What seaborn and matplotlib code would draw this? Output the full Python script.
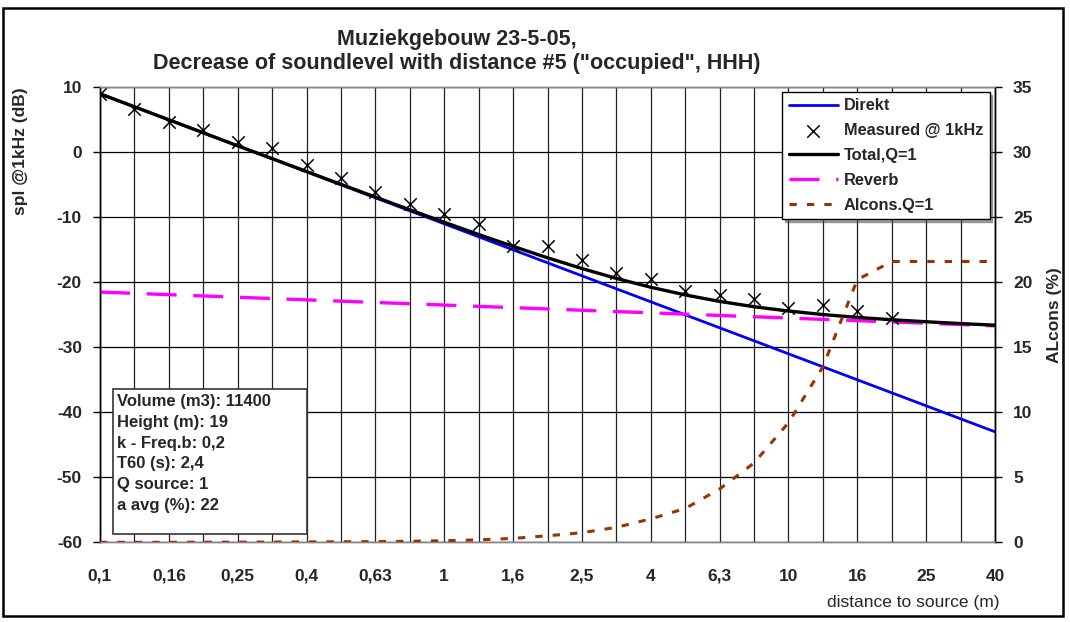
import numpy as np
import pandas as pd
import matplotlib
matplotlib.use("Agg")
import matplotlib.pyplot as plt
import seaborn as sns
from matplotlib.patches import Rectangle

# distance categories (third-octave steps), equally spaced like the original category axis
distances = ['0,1', '0,125', '0,16', '0,2', '0,25', '0,315', '0,4', '0,5', '0,63', '0,8',
             '1', '1,25', '1,6', '2', '2,5', '3,15', '4', '5', '6,3', '8',
             '10', '12,5', '16', '20', '25', '31,5', '40']
direkt = [9.0, 7.0, 5.0, 3.0, 1.0, -1.0, -3.0, -5.0, -7.0, -9.0,
          -11.0, -13.0, -15.0, -17.0, -19.0, -21.0, -23.0, -25.0, -27.0, -29.0,
          -31.0, -33.0, -35.0, -37.0, -39.0, -41.0, -43.0]
reverb = [-21.5, -21.7, -21.9, -22.1, -22.3, -22.5, -22.7, -22.9, -23.1, -23.3,
          -23.5, -23.7, -23.9, -24.1, -24.3, -24.5, -24.7, -24.9, -25.1, -25.3,
          -25.5, -25.7, -25.9, -26.1, -26.3, -26.5, -26.7]
total = [9.0, 7.0, 5.0, 3.0, 1.0, -0.97, -2.95, -4.93, -6.89, -8.84,
         -10.76, -12.65, -14.47, -16.23, -17.88, -19.4, -20.76, -21.94, -22.94, -23.76,
         -24.42, -24.96, -25.4, -25.76, -26.07, -26.35, -26.6]
measured = [8.9, 6.7, 4.6, 3.5, 1.6, 0.6, -1.9, -4.0, -6.1, -8.0,
            -9.5, -11.0, -14.4, -14.4, -16.6, -18.5, -19.5, -21.4, -22.0, -22.5,
            -24.0, -23.5, -24.4, -25.5]
alcons = [0.0, 0.0, 0.0, 0.01, 0.01, 0.02, 0.03, 0.04, 0.05, 0.08,
          0.12, 0.19, 0.3, 0.5, 0.74, 1.15, 1.8, 2.6, 4.1, 6.1,
          9.2, 13.5, 20.2, 21.6, 21.6, 21.6, 21.6]
info_lines = ['Volume (m3): 11400', 'Height (m): 19', 'k - Freq.b: 0,2',
              'T60 (s): 2,4', 'Q source: 1', 'a avg (%): 22']

idx = np.arange(len(distances))
df = pd.DataFrame({'pos': idx, 'direkt': direkt, 'reverb': reverb,
                   'total': total, 'alcons': alcons})
dm = pd.DataFrame({'pos': idx[:len(measured)], 'measured': measured})

sns.set_style('white')
plt.rcParams['font.family'] = ['Liberation Sans', 'DejaVu Sans']
plt.rcParams['axes.unicode_minus'] = False

fig = plt.figure(figsize=(10.7, 6.22), dpi=100)
ax = fig.add_axes([100 / 1070, 1 - 542.3 / 622, 895 / 1070, 455 / 622])
ax2 = ax.twinx()

sns.lineplot(data=df, x='pos', y='direkt', ax=ax, color='#0000FF', lw=2.0, label='Direkt', zorder=3)
sns.scatterplot(data=dm, x='pos', y='measured', ax=ax, marker='x', color='black', s=80,
                linewidth=1.1, label='Measured @ 1kHz', zorder=5)
sns.lineplot(data=df, x='pos', y='total', ax=ax, color='black', lw=2.4, label='Total,Q=1', zorder=4)
sns.lineplot(data=df, x='pos', y='reverb', ax=ax, color='#FF00FF', lw=2.4, label='Reverb', zorder=3)
ax.lines[-1].set_dashes([9, 5])
sns.lineplot(data=df, x='pos', y='alcons', ax=ax2, color='#993300', lw=2.2, label='Alcons.Q=1', zorder=3)
ax2.lines[-1].set_dashes([2.4, 3.3])

ax.set_xlim(0, 26)
ax.set_ylim(-60, 10)
ax2.set_ylim(0, 35)
ax.set_yticks(np.arange(-60, 11, 10))
ax2.set_yticks(np.arange(0, 36, 5))
ax.set_xticks(idx[::2])
ax.set_xticklabels(distances[::2])
ax.set_xticks(idx[1::2], minor=True)

ax.grid(True, which='both', axis='x', color='#222222', lw=0.9)
ax.grid(True, which='major', axis='y', color='black', lw=0.9)
ax.set_axisbelow(True)

for a in (ax, ax2):
    for s in a.spines.values():
        s.set_color('black')
        s.set_linewidth(1.0)
    a.spines['top'].set_color('#888888')
    a.spines['bottom'].set_color('#888888')

ax.tick_params(axis='y', which='major', direction='out', length=5, width=1, pad=8,
               labelsize=12.5, color='black')
ax.tick_params(axis='x', which='both', length=0, pad=19, labelsize=12.5)
ax2.tick_params(axis='y', direction='out', length=5, width=1, pad=8, labelsize=12.5, color='black')
for t in ax.get_xticklabels() + ax.get_yticklabels() + ax2.get_yticklabels():
    t.set_fontweight('bold')

ax.set_xlabel('distance to source (m)', fontsize=12.5, ha='right')
ax.xaxis.set_label_coords(1.005, -0.115)
ax.set_ylabel('spl @1kHz (dB)', fontsize=12.5, fontweight='bold')
ax.yaxis.set_label_coords(-0.081, 0.86)
ax2.set_ylabel('ALcons (%)', fontsize=12.5, fontweight='bold')
ax2.yaxis.set_label_coords(1.058, 0.5)

# legend combining both axes
h1, l1 = ax.get_legend_handles_labels()
h2, l2 = ax2.get_legend_handles_labels()
ax.get_legend().remove()
ax2.get_legend().remove()
leg = ax2.legend(h1 + h2, l1 + l2, loc='upper right', bbox_to_anchor=(0.994, 0.99),
                 frameon=True, fancybox=False, shadow=True, framealpha=1,
                 prop={'weight': 'bold', 'size': 11.8}, handlelength=3.0,
                 labelspacing=0.6, borderpad=0.4, handletextpad=0.35, borderaxespad=0)
leg.get_frame().set_edgecolor('black')
leg.get_frame().set_linewidth(1.0)

# parameter box
ax2.add_patch(Rectangle((13.3 / 895, (542.3 - 534.3) / 455), 194 / 895, 145 / 455,
                        transform=ax.transAxes, facecolor='white', edgecolor='#333333',
                        lw=1.2, zorder=6))
ax2.text(17 / 895, (542.3 - 394) / 455, '\n'.join(info_lines), transform=ax.transAxes,
         ha='left', va='top', fontsize=12, fontweight='bold', linespacing=1.48, zorder=7)

fig.text(457 / 1070, 1 - 39 / 622, 'Muziekgebouw 23-5-05,', ha='center', va='center',
         fontsize=15.5, fontweight='bold')
fig.text(457 / 1070, 1 - 64 / 622, 'Decrease of soundlevel with distance #5 ("occupied", HHH)',
         ha='center', va='center', fontsize=15.5, fontweight='bold')

fig.patches.append(Rectangle((3 / 1070, 1 - 616 / 622), 1060 / 1070, 608 / 622,
                             transform=fig.transFigure, fill=False, edgecolor='black', lw=1.8))

fig.savefig('out.png', dpi=100)
